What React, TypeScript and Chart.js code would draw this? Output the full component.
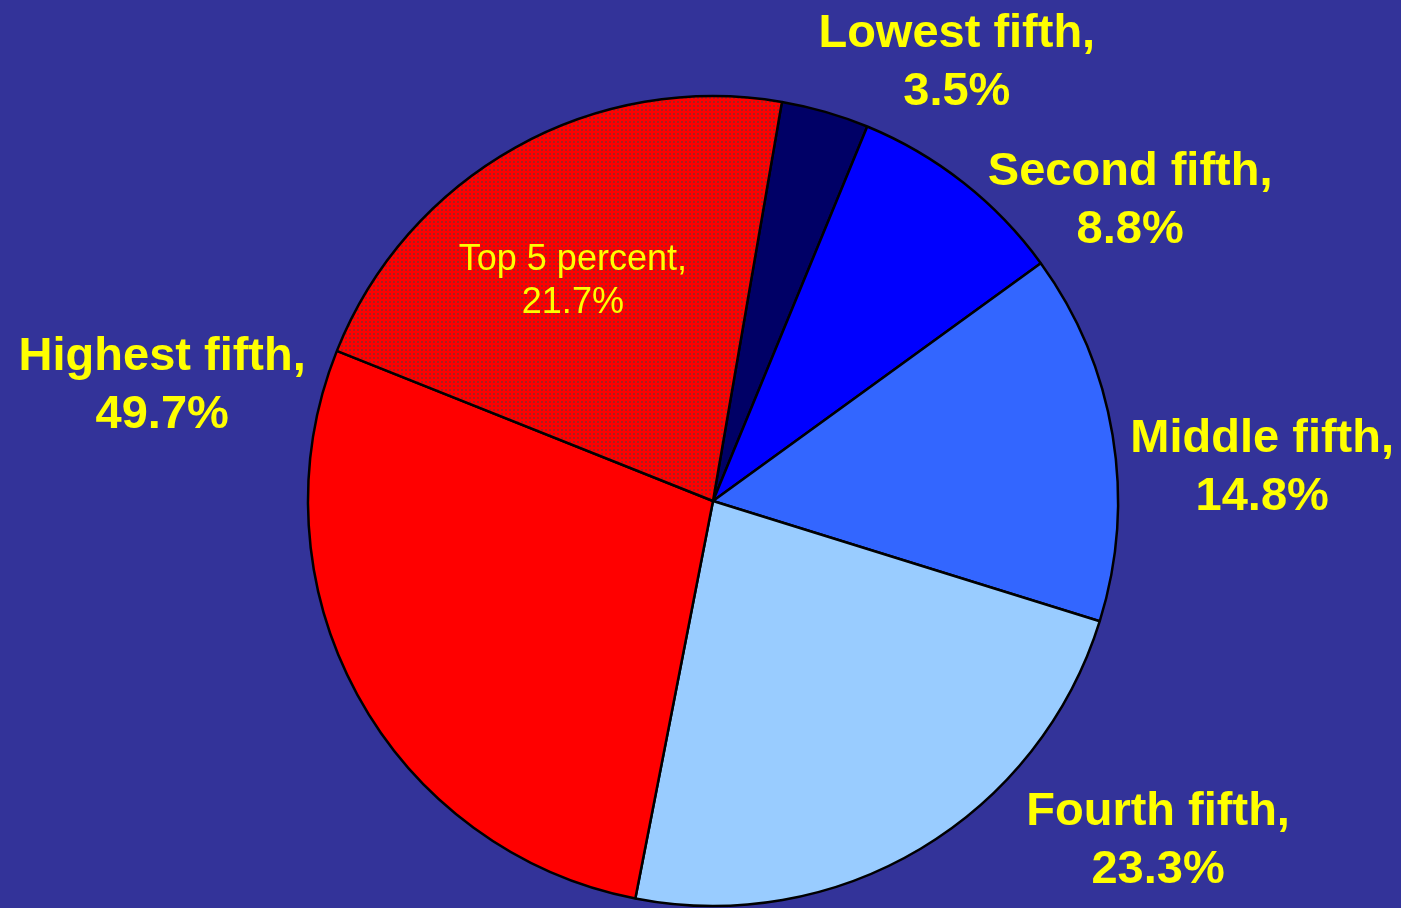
import React, { useEffect, useRef } from "react";
import { Chart, registerables } from "chart.js";

Chart.register(...registerables);

// Slices, clockwise from the top-5 / lowest-fifth boundary
const categories = ["Lowest fifth", "Second fifth", "Middle fifth", "Fourth fifth", "Highest fifth (rest)", "Top 5 percent"];
const shares = [3.5, 8.8, 14.8, 23.3, 28.0, 21.7];
const sliceColors = ["#000066", "#0000FF", "#3366FF", "#99CCFF", "#FF0000", "pattern"];

// Text labels
const labelLine1 = ["Lowest fifth,", "Second fifth,", "Middle fifth,", "Fourth fifth,", "Highest fifth,", "Top 5 percent,"];
const labelLine2 = ["3.5%", "8.8%", "14.8%", "23.3%", "49.7%", "21.7%"];

const BG = "#333399";
const FONT = '"Liberation Sans", Arial, Helvetica, sans-serif';

function makePattern(ctx: CanvasRenderingContext2D) {
  const c = document.createElement("canvas");
  c.width = 4;
  c.height = 4;
  const p = c.getContext("2d")!;
  p.fillStyle = "#FF0000";
  p.fillRect(0, 0, 4, 4);
  p.fillStyle = "#a82020";
  p.fillRect(1, 1, 2, 2);
  return ctx.createPattern(c, "repeat")!;
}

// label anchors, in units of pie radius, relative to pie centre (line-1 baseline)
const anchors: { dx: number; dy: number; bold: boolean }[] = [
  { dx: 0.602, dy: -1.121, bold: true },
  { dx: 1.03, dy: -0.78, bold: true },
  { dx: 1.356, dy: -0.121, bold: true },
  { dx: 1.099, dy: 0.8, bold: true },
  { dx: -1.36, dy: -0.323, bold: true },
  { dx: -0.346, dy: -0.57, bold: false },
];

const labelPlugin = {
  id: "sliceLabels",
  afterDatasetsDraw(chart: any) {
    const meta = chart.getDatasetMeta(0);
    const arc0 = meta.data[0] as any;
    if (!arc0) return;
    const { x, y, outerRadius } = arc0.getProps(["x", "y", "outerRadius"], true);
    const ctx = chart.ctx as CanvasRenderingContext2D;
    ctx.save();
    ctx.fillStyle = "#FFFF00";
    ctx.textAlign = "center";
    ctx.textBaseline = "alphabetic";
    anchors.forEach((a, i) => {
      const px = x + a.dx * outerRadius;
      const py = y + a.dy * outerRadius;
      if (a.bold) {
        ctx.font = `bold 47px ${FONT}`;
        ctx.fillText(labelLine1[i], px, py);
        ctx.fillText(labelLine2[i], px, py + 58);
      } else {
        ctx.font = `36px ${FONT}`;
        ctx.fillText(labelLine1[i], px, py);
        ctx.fillText(labelLine2[i], px, py + 43);
      }
    });
    ctx.restore();
  },
};

export default function App() {
  const ref = useRef<HTMLCanvasElement>(null);
  useEffect(() => {
    document.body.style.margin = "0";
    const canvas = ref.current!;
    const ctx = canvas.getContext("2d")!;
    const pattern = makePattern(ctx);
    const colors = sliceColors.map((c) => (c === "pattern" ? pattern : c));
    const chart = new Chart(canvas, {
      type: "pie",
      data: {
        labels: categories,
        datasets: [
          {
            data: shares,
            backgroundColor: colors as any,
            borderColor: "#000000",
            borderWidth: 2.5,
            borderAlign: "center",
          },
        ],
      },
      options: {
        responsive: false,
        animation: false,
        rotation: 9.8,
        radius: 405,
        layout: { padding: { left: 25, right: 0, top: 94, bottom: 0 } },
        plugins: {
          legend: { display: false },
          tooltip: { enabled: false },
          title: { display: false },
        },
      } as any,
      plugins: [labelPlugin],
    });
    return () => chart.destroy();
  }, []);
  return (
    <div style={{ width: 1401, height: 908, background: BG, overflow: "hidden" }}>
      <canvas ref={ref} width={1401} height={908} style={{ display: "block" }} />
    </div>
  );
}
